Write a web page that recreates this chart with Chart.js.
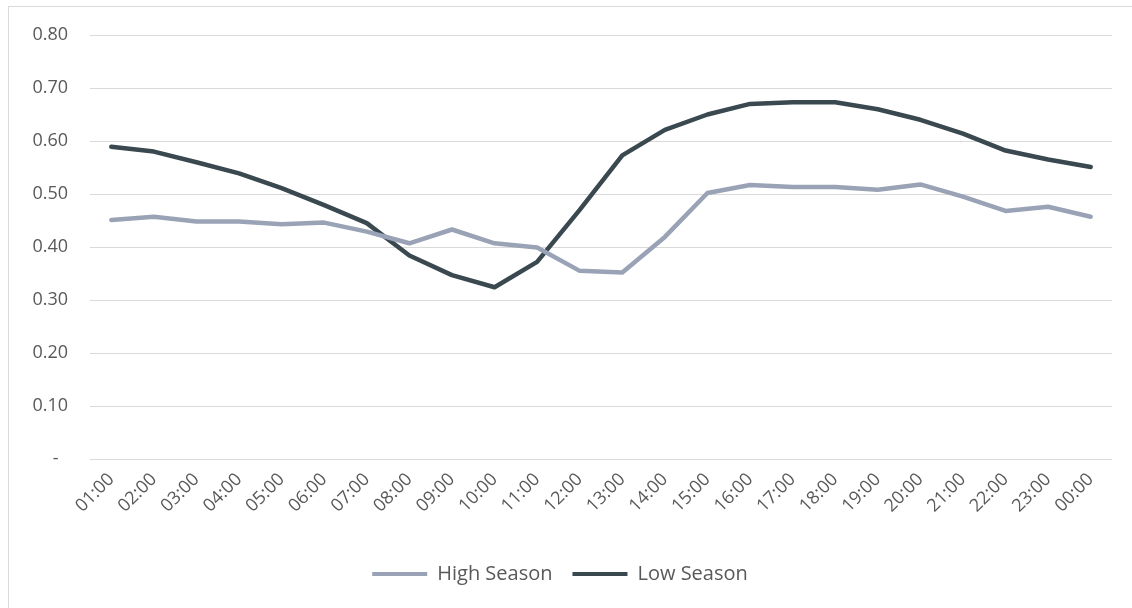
<!DOCTYPE html>
<html>
<head>
<meta charset="utf-8">
<script src="https://cdn.jsdelivr.net/npm/chart.js@4/dist/chart.umd.min.js"></script>
<style>
  html, body { margin: 0; padding: 0; background: #fff; overflow: hidden; }
  #wrap { position: relative; width: 1132px; height: 608px; }
  #frame { position: absolute; left: 8px; top: 6px; width: 1140px; height: 620px; border: 1px solid #d9d9d9; box-sizing: border-box; pointer-events: none; }
  canvas { position: absolute; left: 0; top: 0; }
</style>
</head>
<body>
<div id="wrap">
  <div id="frame"></div>
  <canvas id="c" width="1132" height="608"></canvas>
</div>
<script>
const hours = ['01:00','02:00','03:00','04:00','05:00','06:00','07:00','08:00','09:00','10:00','11:00','12:00',
               '13:00','14:00','15:00','16:00','17:00','18:00','19:00','20:00','21:00','22:00','23:00','00:00'];
const highSeason = [0.451,0.457,0.448,0.448,0.443,0.446,0.429,0.407,0.433,0.407,0.399,0.355,
                    0.352,0.419,0.502,0.517,0.513,0.513,0.508,0.518,0.495,0.468,0.476,0.457];
const lowSeason  = [0.589,0.580,0.560,0.539,0.511,0.479,0.445,0.384,0.347,0.324,0.372,0.470,
                    0.573,0.621,0.650,0.670,0.673,0.673,0.660,0.640,0.614,0.582,0.565,0.551];
const yTicks = [0, 0.1, 0.2, 0.3, 0.4, 0.5, 0.6, 0.7, 0.8];

const textColor = '#595959';
const fontFamily = '"Open Sans", "Noto Sans", sans-serif';

new Chart(document.getElementById('c'), {
  type: 'line',
  data: {
    labels: hours,
    datasets: [
      { label: 'High Season', data: highSeason, borderColor: '#9aa3b6', backgroundColor: '#9aa3b6',
        borderWidth: 4.5, pointRadius: 0, tension: 0, borderCapStyle: 'round', borderJoinStyle: 'round' },
      { label: 'Low Season', data: lowSeason, borderColor: '#3a4850', backgroundColor: '#3a4850',
        borderWidth: 4.5, pointRadius: 0, tension: 0, borderCapStyle: 'round', borderJoinStyle: 'round' }
    ]
  },
  options: {
    responsive: false,
    animation: false,
    devicePixelRatio: 1,
    layout: { padding: { left: 8, right: 20, top: 35, bottom: 14 } },
    plugins: {
      legend: {
        position: 'bottom',
        labels: {
          color: textColor,
          font: { family: fontFamily, size: 20 },
          boxWidth: 55, boxHeight: 4, padding: 20,
          generateLabels: (chart) => chart.data.datasets.map((d, i) => ({
            text: d.label, fillStyle: d.borderColor, strokeStyle: d.borderColor,
            lineWidth: 0, datasetIndex: i, fontColor: textColor
          }))
        }
      },
      tooltip: { enabled: false }
    },
    scales: {
      x: {
        offset: true,
        grid: { display: false },
        border: { display: false },
        ticks: { color: textColor, font: { family: fontFamily, size: 18 }, maxRotation: 45, minRotation: 45, autoSkip: false, padding: 2 },
        afterFit: (s) => { s.height = 85; }
      },
      y: {
        min: 0, max: 0.8,
        afterBuildTicks: (s) => { s.ticks = yTicks.map(v => ({ value: v })); },
        grid: { color: '#d9d9d9', lineWidth: 1, drawTicks: false },
        border: { display: false },
        ticks: {
          color: textColor, font: { family: fontFamily, size: 18 }, padding: 22,
          callback: (v) => v === 0 ? '-  ' : v.toFixed(2)
        },
        afterFit: (s) => { s.width = 82; }
      }
    }
  }
});
</script>
</body>
</html>
